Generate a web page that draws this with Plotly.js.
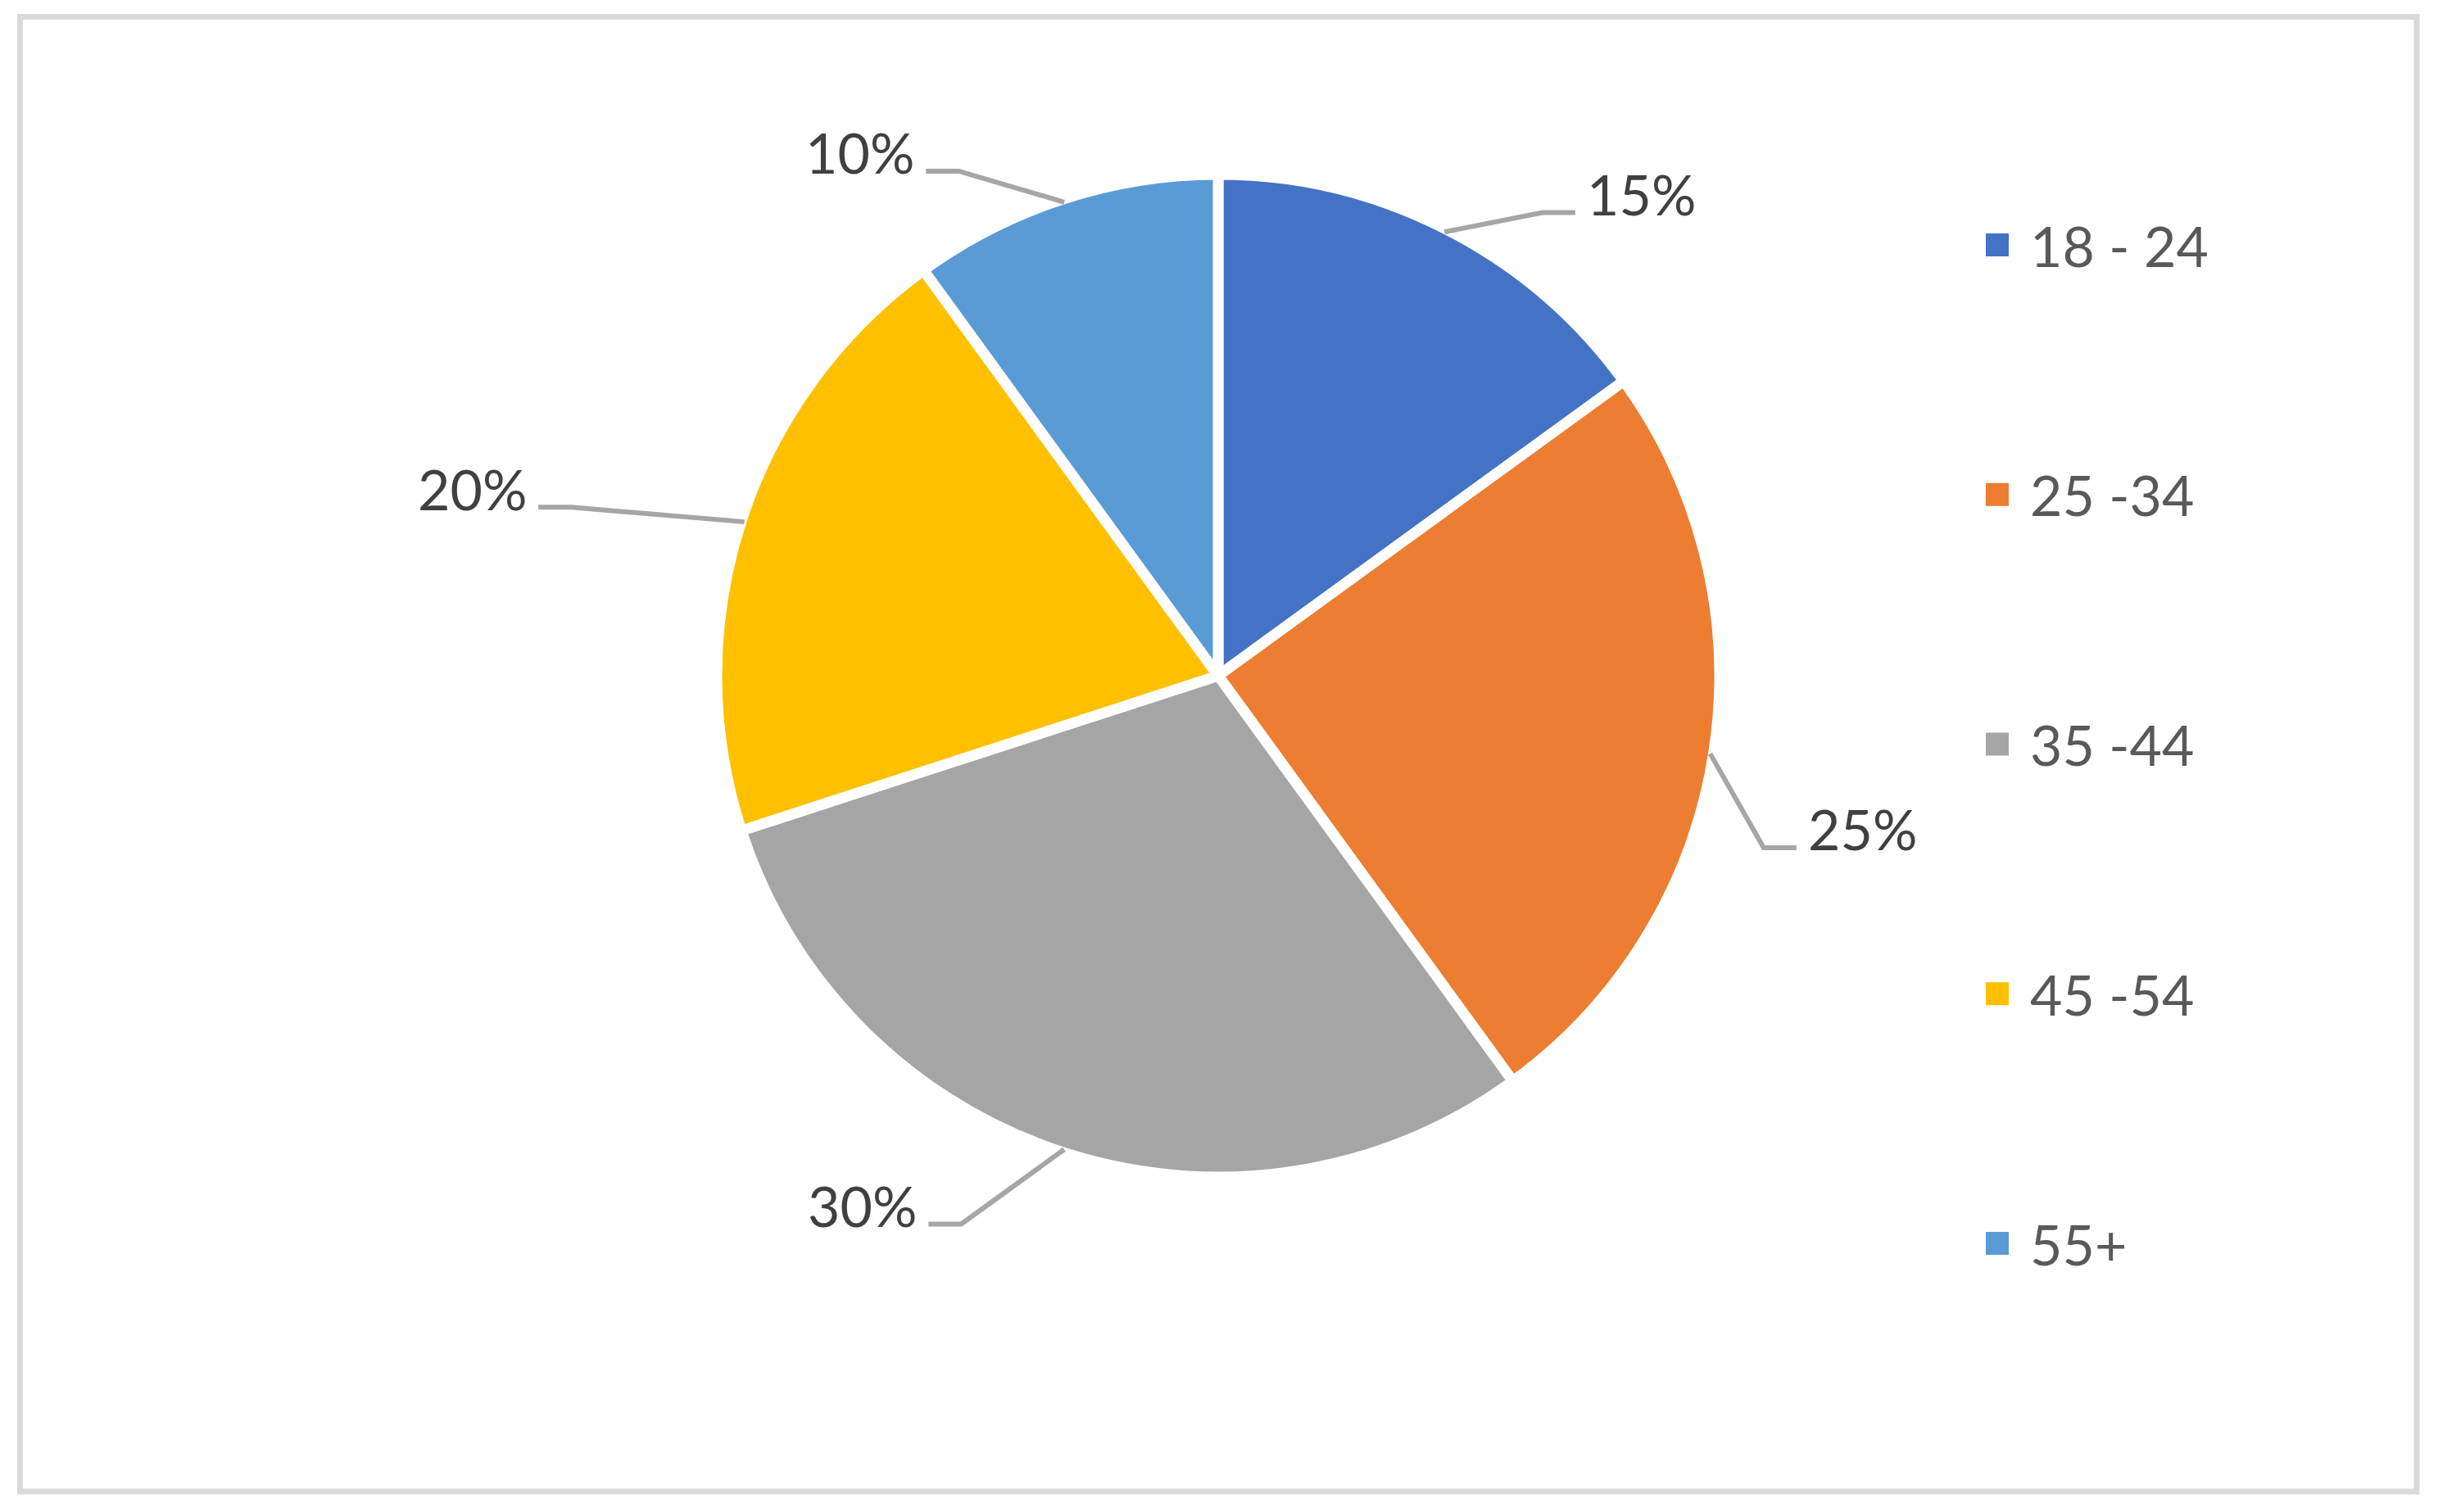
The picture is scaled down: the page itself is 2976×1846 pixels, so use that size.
<!DOCTYPE html>
<html>
<head>
<meta charset="utf-8">
<script src="https://cdn.plot.ly/plotly-3.0.1.min.js"></script>
<style>
  html, body { margin: 0; padding: 0; background: #fff; }
  #chart { width: 2976px; height: 1846px; }
</style>
</head>
<body>
<div id="chart"></div>
<script>
// data
const ageGroups = ['18 - 24', '25 -34', '35 -44', '45 -54', '55+'];
const shares = [15, 25, 30, 20, 10];
const sliceColors = ['#4472C4', '#ED7D31', '#A5A5A5', '#FFC000', '#5B9BD5'];

// page geometry (pixels)
const W = 2976, H = 1846;
const CX = 1487, CY = 825, R = 612;
const RV = R - 6; // visible radius after the white slice border
// where each leader line bends: angle (deg, clockwise from 12 o'clock), distance in radii
const elbows = [[35, 1.139], [107.5, 1.152], [205.1, 1.22], [284.6, 1.347], [332.8, 1.143]];

function px(x) { return x / W; }
function py(y) { return 1 - y / H; }
function polar(deg, r) {
    const a = deg * Math.PI / 180;
    return [CX + r * Math.sin(a), CY - r * Math.cos(a)];
}

let shapes = [];
let annotations = [];

// outer frame
shapes.push({
    type: 'rect', xref: 'paper', yref: 'paper',
    x0: px(24.5), x1: px(2950), y0: py(20.5), y1: py(1821),
    line: {color: '#D9D9D9', width: 7}
});

// data labels with leader lines
const total = shares.reduce((a, b) => a + b, 0);
let acc = 0;
shares.forEach((v, i) => {
    const mid = (acc + v / 2) / total * 360;
    acc += v;
    const start = polar(mid, RV + 2);
    const bend = polar(elbows[i][0], elbows[i][1] * RV);
    const right = bend[0] > CX;
    const endX = bend[0] + (right ? 40 : -40);
    shapes.push({
        type: 'path', xref: 'paper', yref: 'paper',
        path: 'M' + px(start[0]) + ',' + py(start[1]) +
              ' L' + px(bend[0]) + ',' + py(bend[1]) +
              ' L' + px(endX) + ',' + py(bend[1]),
        line: {color: '#A6A6A6', width: 6}
    });
    annotations.push({
        xref: 'paper', yref: 'paper',
        x: px(endX + (right ? 12 : -12)), y: py(bend[1] - 23),
        xanchor: right ? 'left' : 'right', yanchor: 'middle',
        text: Math.round(v / total * 100) + '%',
        showarrow: false,
        font: {family: 'Lato', size: 68, color: '#404040'}
    });
});

// legend
ageGroups.forEach((name, i) => {
    const y = 299 + i * 304.75;
    shapes.push({
        type: 'rect', xref: 'paper', yref: 'paper',
        x0: px(2424), x1: px(2452), y0: py(y - 14), y1: py(y + 14),
        fillcolor: sliceColors[i], line: {width: 0}
    });
    annotations.push({
        xref: 'paper', yref: 'paper',
        x: px(2476), y: py(y),
        xanchor: 'left', yanchor: 'middle',
        text: name, showarrow: false,
        font: {family: 'Lato', size: 68, color: '#595959'}
    });
});

let pie = {
    type: 'pie',
    labels: ageGroups,
    values: shares,
    sort: false,
    direction: 'clockwise',
    rotation: 0,
    marker: {colors: sliceColors, line: {color: '#FFFFFF', width: 13}},
    textinfo: 'none',
    hoverinfo: 'skip',
    domain: {
        x: [px(CX - R), px(CX + R)],
        y: [py(CY + R), py(CY - R)]
    }
};

let layout = {
    width: W,
    height: H,
    margin: {l: 0, r: 0, t: 0, b: 0},
    paper_bgcolor: '#FFFFFF',
    showlegend: false,
    shapes: shapes,
    annotations: annotations
};

Plotly.newPlot('chart', [pie], layout, {displayModeBar: false, staticPlot: true});
</script>
</body>
</html>
